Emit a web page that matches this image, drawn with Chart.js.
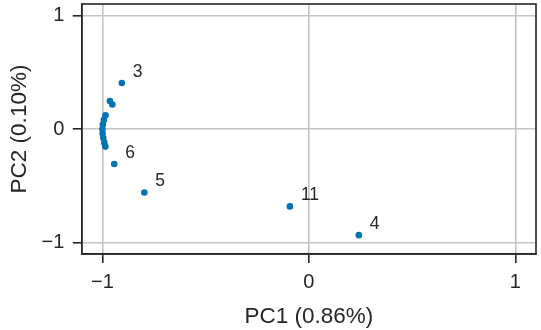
<!DOCTYPE html>
<html>
<head>
<meta charset="utf-8">
<script src="https://cdn.jsdelivr.net/npm/chart.js@4/dist/chart.umd.min.js"></script>
<style>
  html, body { margin: 0; padding: 0; background: #fff; }
  #wrap { width: 541px; height: 330px; }
</style>
</head>
<body>
<div id="wrap"><canvas id="pca"></canvas></div>
<script>
// PCA scores
const pc1 = [-0.906, -0.964, -0.952, -0.985, -0.993, -0.998, -1.0, -0.999, -0.996, -0.991, -0.986, -0.943, -0.797, -0.092, 0.242];
const pc2 = [0.405, 0.246, 0.216, 0.12, 0.08, 0.04, 0.0, -0.04, -0.08, -0.12, -0.155, -0.308, -0.559, -0.681, -0.934];
const pointNames = ['3', '', '', '', '', '', '', '', '', '', '', '6', '5', '11', '4'];
const tickValues = [-1, 0, 1];

const ink = '#262626';
const fontFam = '"Liberation Sans", Arial, sans-serif';

// top + right frame lines (chart.js only draws the axis borders)
const frame = {
  id: 'frame',
  afterDatasetsDraw(chart) {
    const a = chart.chartArea, c = chart.ctx;
    c.save();
    c.strokeStyle = ink;
    c.lineWidth = 1.6;
    c.strokeRect(a.left, a.top, a.right - a.left, a.bottom - a.top);
    c.restore();
  }
};

// point labels
const pointText = {
  id: 'pointText',
  afterDatasetsDraw(chart) {
    const c = chart.ctx;
    const meta = chart.getDatasetMeta(0);
    c.save();
    c.fillStyle = ink;
    c.font = '17.5px ' + fontFam;
    c.textAlign = 'left';
    c.textBaseline = 'middle';
    meta.data.forEach((pt, i) => {
      if (pointNames[i]) c.fillText(pointNames[i], pt.x + 11, pt.y - 11);
    });
    c.restore();
  }
};

const axisOpts = (title, pad, titlePad) => ({
  min: -1.1,
  max: 1.1,
  afterBuildTicks: (ax) => { ax.ticks = tickValues.map(v => ({ value: v })); },
  // labels at the ends may hang over the frame, like matplotlib
  afterFit: (ax) => { ax.paddingTop = 0; ax.paddingBottom = 0; ax.paddingLeft = 0; ax.paddingRight = 0; },
  ticks: {
    color: ink,
    font: { family: fontFam, size: 20 },
    padding: pad,
    callback: (v) => v < 0 ? '\u2212' + Math.abs(v) : String(v)
  },
  grid: {
    color: '#c4c4c4',
    lineWidth: 1.6,
    tickColor: ink,
    tickLength: 9,
    tickWidth: 1.6
  },
  border: { display: true, color: ink, width: 1.6 },
  title: {
    display: true,
    text: title,
    color: ink,
    font: { family: fontFam, size: 22.5 },
    padding: { top: titlePad, bottom: 0 }
  }
});

new Chart(document.getElementById('pca'), {
  type: 'scatter',
  data: {
    datasets: [{
      data: pc1.map((x, i) => ({ x: x, y: pc2[i] })),
      backgroundColor: '#0173b2',
      borderWidth: 0,
      pointRadius: 3.3
    }]
  },
  options: {
    responsive: true,
    maintainAspectRatio: false,
    animation: false,
    layout: { padding: { left: 0, right: 5, top: 2, bottom: 0 } },
    plugins: { legend: { display: false }, tooltip: { enabled: false } },
    scales: {
      x: axisOpts('PC1 (0.86%)', 7, 2),
      y: axisOpts('PC2 (0.10%)', 8.5, 6)
    }
  },
  plugins: [frame, pointText]
});
</script>
</body>
</html>
